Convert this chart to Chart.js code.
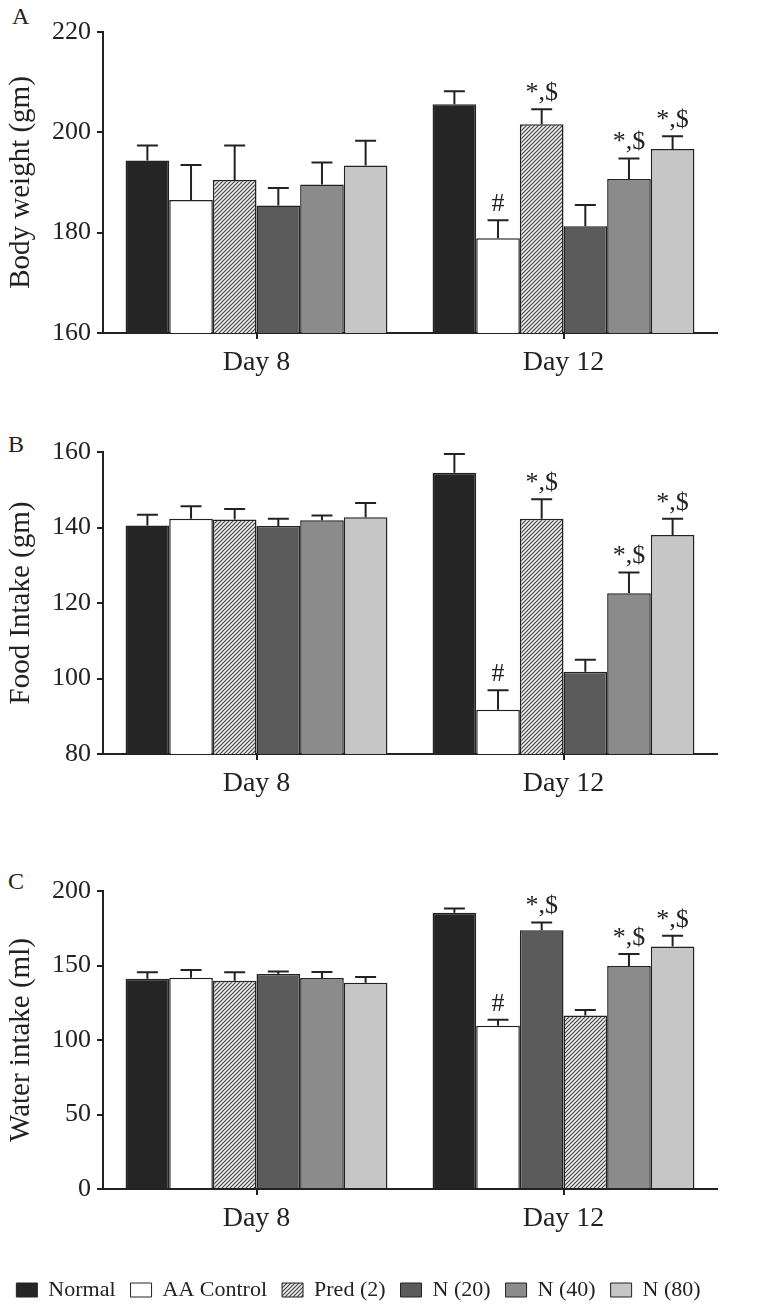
<!DOCTYPE html>
<html>
<head>
<meta charset="utf-8">
<script src="https://cdn.jsdelivr.net/npm/chart.js@4.4.0/dist/chart.umd.min.js"></script>
<style>
body { margin: 0; background: #fff; width: 766px; height: 1311px; position: relative; overflow: hidden; font-family: "Liberation Serif", serif; color: #222; }
.panel { position: absolute; left: 0; width: 766px; }
.letter { position: absolute; font-size: 24px; }
</style>
</head>
<body>
<div class="letter" style="left:12px;top:3px">A</div>
<div class="letter" style="left:8px;top:431px">B</div>
<div class="letter" style="left:8px;top:868px">C</div>
<div class="panel" style="top:0;height:400px"><canvas id="chartA"></canvas></div>
<div class="panel" style="top:410px;height:400px"><canvas id="chartB"></canvas></div>
<div class="panel" style="top:850px;height:461px"><canvas id="chartC"></canvas></div>
<script>
//Data (mean, error bar, significance marks)
const groups = ['Normal', 'AA Control', 'Pred (2)', 'N (20)', 'N (40)', 'N (80)'];
const days = ['Day 8', 'Day 12'];

const bwMean = [[194.4, 205.6], [186.5, 178.9], [190.5, 201.6], [185.4, 181.3], [189.6, 190.7], [193.4, 196.7]];
const bwErr = [[3.0, 2.6], [7.0, 3.6], [6.9, 3.0], [3.5, 4.2], [4.4, 4.1], [4.9, 2.5]];
const bwMarks = [['', ''], ['', '#'], ['', '*,$'], ['', ''], ['', '*,$'], ['', '*,$']];

const foodMean = [[140.5, 154.5], [142.3, 91.7], [142.1, 142.3], [140.4, 101.8], [141.9, 122.6], [142.7, 138.0]];
const foodErr = [[2.9, 5.0], [3.3, 5.2], [2.8, 5.2], [1.9, 3.2], [1.3, 5.5], [3.8, 4.3]];
const foodMarks = [['', ''], ['', '#'], ['', '*,$'], ['', ''], ['', '*,$'], ['', '*,$']];

const waterMean = [[141.1, 185.4], [141.8, 109.6], [139.8, 173.6], [144.3, 116.5], [141.6, 149.7], [138.5, 162.8]];
const waterErr = [[4.3, 2.9], [5.2, 4.0], [5.6, 5.3], [1.7, 3.6], [4.0, 8.0], [3.8, 7.2]];
const waterMarks = [['', ''], ['', '#'], ['', '*,$'], ['', ''], ['', '*,$'], ['', '*,$']];

//Hatch pattern for Pred (2)
function makeHatch() {
    const c = document.createElement('canvas');
    c.width = 4; c.height = 4;
    const g = c.getContext('2d');
    g.fillStyle = '#f0f0f0';
    g.fillRect(0, 0, 4, 4);
    g.strokeStyle = '#444';
    g.lineWidth = 1.2;
    g.beginPath();
    g.moveTo(0, 4); g.lineTo(4, 0);
    g.moveTo(-1, 1); g.lineTo(1, -1);
    g.moveTo(3, 5); g.lineTo(5, 3);
    g.stroke();
    return g.createPattern(c, 'repeat');
}
const hatch = makeHatch();
const fills = ['#252525', '#ffffff', hatch, '#5b5b5b', '#8b8b8b', '#c6c6c6'];

//Error bars + marks drawn from the y scale
const errorBars = {
    id: 'errorBars',
    afterDatasetsDraw(chart) {
        const ctx = chart.ctx;
        const y = chart.scales.y;
        ctx.save();
        ctx.strokeStyle = '#222';
        ctx.fillStyle = '#222';
        ctx.lineWidth = 2;
        ctx.font = '26px "Liberation Serif"';
        ctx.textAlign = 'center';
        ctx.textBaseline = 'alphabetic';
        chart.data.datasets.forEach((ds, i) => {
            chart.getDatasetMeta(i).data.forEach((bar, j) => {
                const top = y.getPixelForValue(ds.data[j] + ds.errors[j]);
                ctx.beginPath();
                ctx.moveTo(bar.x, bar.y);
                ctx.lineTo(bar.x, top);
                ctx.moveTo(bar.x - 10.5, top);
                ctx.lineTo(bar.x + 10.5, top);
                ctx.stroke();
                if (ds.marks[j]) ctx.fillText(ds.marks[j], bar.x, top - 9);
            });
        });
        ctx.restore();
    }
};

function makePanel(id, means, errs, marks, yMin, yMax, step, title, padTop, xHeight, withLegend, barFills) {
    const datasets = groups.map((g, i) => ({
        label: g,
        data: means[i],
        errors: errs[i],
        marks: marks[i],
        backgroundColor: barFills[i],
        borderColor: '#222',
        borderWidth: 1.5
    }));
    return new Chart(document.getElementById(id), {
        type: 'bar',
        data: { labels: days, datasets: datasets },
        options: {
            responsive: true,
            maintainAspectRatio: false,
            animation: false,
            layout: { padding: { top: padTop, right: 49, left: 0, bottom: 0 } },
            datasets: { bar: { categoryPercentage: 0.853, barPercentage: 1 } },
            plugins: {
                tooltip: { enabled: false },
                legend: {
                    display: withLegend,
                    position: 'bottom',
                    labels: {
                        color: '#222',
                        font: { family: 'Liberation Serif', size: 22 },
                        boxWidth: 21,
                        boxHeight: 14,
                        padding: 15,
                        generateLabels: () => groups.map((g, i) => ({
                            text: g, fillStyle: fills[i], strokeStyle: '#222', lineWidth: 1,
                            hidden: false, datasetIndex: i, fontColor: '#222'
                        }))
                    }
                }
            },
            scales: {
                x: {
                    afterFit: s => { s.height = xHeight; },
                    grid: { drawOnChartArea: false, offset: false, tickLength: 6, color: '#222', lineWidth: 2 },
                    border: { color: '#222', width: 2 },
                    ticks: { color: '#222', padding: 7, font: { family: 'Liberation Serif', size: 28 } }
                },
                y: {
                    min: yMin, max: yMax,
                    afterFit: s => { s.width = 103; },
                    grid: { drawOnChartArea: false, tickLength: 6, color: '#222', lineWidth: 2 },
                    border: { color: '#222', width: 2 },
                    ticks: { stepSize: step, color: '#222', padding: 6, font: { family: 'Liberation Serif', size: 26 } },
                    title: { display: true, text: title, color: '#222', padding: { top: 4, bottom: 0 }, font: { family: 'Liberation Serif', size: 29 } }
                }
            }
        },
        plugins: [errorBars]
    });
}

makePanel('chartA', bwMean, bwErr, bwMarks, 160, 220, 20, 'Body weight (gm)', 32, 67, false, fills);
makePanel('chartB', foodMean, foodErr, foodMarks, 80, 160, 20, 'Food Intake (gm)', 42, 56, false, fills);

//In panel C of the original, the Day 12 fills of Pred (2) and N (20) are swapped
const waterFills = fills.slice();
waterFills[2] = [hatch, fills[3]];
waterFills[3] = [fills[3], hatch];
makePanel('chartC', waterMean, waterErr, waterMarks, 0, 200, 50, 'Water intake (ml)', 41, 75, true, waterFills);
</script>
</body>
</html>
